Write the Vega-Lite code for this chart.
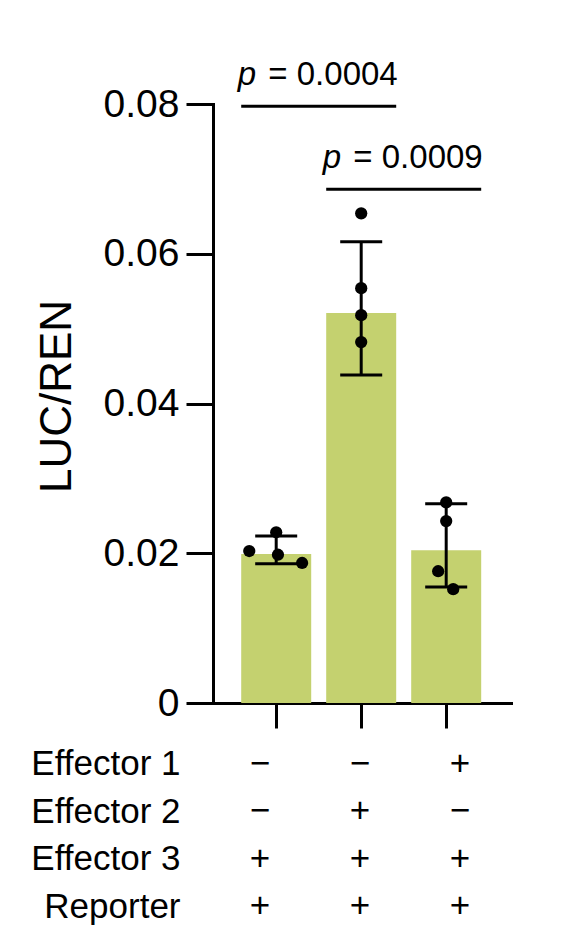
{
  "$schema": "https://vega.github.io/schema/vega-lite/v6.json",
  "padding": {"left": 30, "top": 59, "right": 0, "bottom": 0},
  "spacing": 10,
  "config": {
    "font": "Liberation Sans",
    "view": {"stroke": null},
    "axis": {"grid": false, "domainColor": "black", "tickColor": "black", "labelColor": "black", "titleColor": "black", "domainWidth": 3, "tickWidth": 3}
  },
  "datasets": {
    "bars": [
      {"group": "G1", "mean": 0.0199, "lo": 0.0186, "hi": 0.0223},
      {"group": "G2", "mean": 0.0521, "lo": 0.0438, "hi": 0.0616},
      {"group": "G3", "mean": 0.0204, "lo": 0.0155, "hi": 0.0266}
    ],
    "points": [
      {"group": "G1", "value": 0.0203, "jitter": -0.77},
      {"group": "G1", "value": 0.0228, "jitter": 0},
      {"group": "G1", "value": 0.0198, "jitter": 0.05},
      {"group": "G1", "value": 0.0187, "jitter": 0.74},
      {"group": "G2", "value": 0.0654, "jitter": 0},
      {"group": "G2", "value": 0.0554, "jitter": 0},
      {"group": "G2", "value": 0.0518, "jitter": 0},
      {"group": "G2", "value": 0.0482, "jitter": 0},
      {"group": "G3", "value": 0.0268, "jitter": 0},
      {"group": "G3", "value": 0.0243, "jitter": 0},
      {"group": "G3", "value": 0.0176, "jitter": -0.23},
      {"group": "G3", "value": 0.0152, "jitter": 0.2}
    ],
    "sig": [
      {"from": "G1", "to": "G2", "y": 0.0797, "label": "= 0.0004"},
      {"from": "G2", "to": "G3", "y": 0.0686, "label": "= 0.0009"}
    ],
    "table": [
      {"row": "Effector 1", "group": "G1", "sign": "−"},
      {"row": "Effector 1", "group": "G2", "sign": "−"},
      {"row": "Effector 1", "group": "G3", "sign": "+"},
      {"row": "Effector 2", "group": "G1", "sign": "−"},
      {"row": "Effector 2", "group": "G2", "sign": "+"},
      {"row": "Effector 2", "group": "G3", "sign": "−"},
      {"row": "Effector 3", "group": "G1", "sign": "+"},
      {"row": "Effector 3", "group": "G2", "sign": "+"},
      {"row": "Effector 3", "group": "G3", "sign": "+"},
      {"row": "Reporter", "group": "G1", "sign": "+"},
      {"row": "Reporter", "group": "G2", "sign": "+"},
      {"row": "Reporter", "group": "G3", "sign": "+"}
    ]
  },
  "vconcat": [
    {
      "width": 300,
      "height": 599,
      "resolve": {"scale": {"x": "independent", "xOffset": "independent"}, "axis": {"x": "independent"}},
      "layer": [
        {
          "layer": [
            {
              "data": {"name": "bars"},
              "mark": {"type": "bar", "color": "#c4d16f"},
              "encoding": {
                "x": {"field": "group", "type": "nominal", "scale": {"domain": ["G1", "G2", "G3"], "paddingInner": 0.1765, "paddingOuter": 0.353, "align": 0.47},
                      "axis": {"labels": false, "title": null, "tickSize": 25, "domainCap": "square"}},
                "y": {"field": "mean", "type": "quantitative", "scale": {"domain": [0, 0.08], "nice": false},
                      "axis": {"values": [0, 0.02, 0.04, 0.06, 0.08], "labelExpr": "datum.value == 0 ? '0' : format(datum.value, '.2f')",
                               "labelFontSize": 39, "labelPadding": 7, "tickSize": 27, "title": "LUC/REN", "titleFontSize": 44, "titleFontWeight": "normal", "titlePadding": 24, "titleY": 292, "domainCap": "square"}}
              }
            },
            {
              "data": {"name": "bars"},
              "mark": {"type": "rule", "color": "black", "strokeWidth": 3},
              "encoding": {
                "x": {"field": "group", "type": "nominal"},
                "y": {"field": "lo", "type": "quantitative"},
                "y2": {"field": "hi"}
              }
            },
            {
              "data": {"name": "bars"},
              "mark": {"type": "tick", "color": "black", "opacity": 1, "orient": "horizontal", "size": 42, "thickness": 3},
              "encoding": {
                "x": {"field": "group", "type": "nominal"},
                "y": {"field": "lo", "type": "quantitative"}
              }
            },
            {
              "data": {"name": "bars"},
              "mark": {"type": "tick", "color": "black", "opacity": 1, "orient": "horizontal", "size": 42, "thickness": 3},
              "encoding": {
                "x": {"field": "group", "type": "nominal"},
                "y": {"field": "hi", "type": "quantitative"}
              }
            },
            {
              "data": {"name": "sig"},
              "mark": {"type": "rule", "color": "black", "strokeWidth": 3},
              "encoding": {
                "x": {"field": "from", "type": "nominal", "bandPosition": 0},
                "x2": {"field": "to", "bandPosition": 1},
                "y": {"field": "y", "type": "quantitative"}
              }
            },
            {
              "data": {"name": "sig"},
              "mark": {"type": "text", "fontSize": 33, "fontStyle": "italic", "align": "left", "baseline": "alphabetic", "dx": -81, "dy": -21, "color": "black"},
              "encoding": {
                "x": {"field": "from", "type": "nominal", "bandPosition": 1.107},
                "y": {"field": "y", "type": "quantitative"},
                "text": {"value": "p"}
              }
            },
            {
              "data": {"name": "sig"},
              "mark": {"type": "text", "fontSize": 33, "align": "right", "baseline": "alphabetic", "dx": 79, "dy": -21, "color": "black"},
              "encoding": {
                "x": {"field": "from", "type": "nominal", "bandPosition": 1.107},
                "y": {"field": "y", "type": "quantitative"},
                "text": {"field": "label"}
              }
            }
          ]
        },
        {
          "data": {"name": "points"},
          "mark": {"type": "circle", "color": "black", "opacity": 1, "size": 150},
          "encoding": {
            "x": {"field": "group", "type": "nominal", "scale": {"domain": ["G1", "G2", "G3"], "paddingInner": 0.1765, "paddingOuter": 0.353, "align": 0.47}, "axis": null},
            "xOffset": {"field": "jitter", "type": "quantitative", "scale": {"domain": [-1, 1], "range": [0, 70]}},
            "y": {"field": "value", "type": "quantitative"}
          }
        }
      ]
    },
    {
      "width": 300,
      "height": 190,
      "data": {"name": "table"},
      "mark": {"type": "text", "fontSize": 35, "color": "black", "baseline": "middle"},
      "encoding": {
        "x": {"field": "group", "type": "nominal", "scale": {"domain": ["G1", "G2", "G3"], "paddingInner": 0.1765, "paddingOuter": 0.353, "align": 0.47}, "axis": null},
        "y": {"field": "row", "type": "nominal", "sort": ["Effector 1", "Effector 2", "Effector 3", "Reporter"],
              "axis": {"title": null, "ticks": false, "domain": false, "labelFontSize": 35, "labelPadding": 33}},
        "text": {"field": "sign"}
      }
    }
  ]
}
